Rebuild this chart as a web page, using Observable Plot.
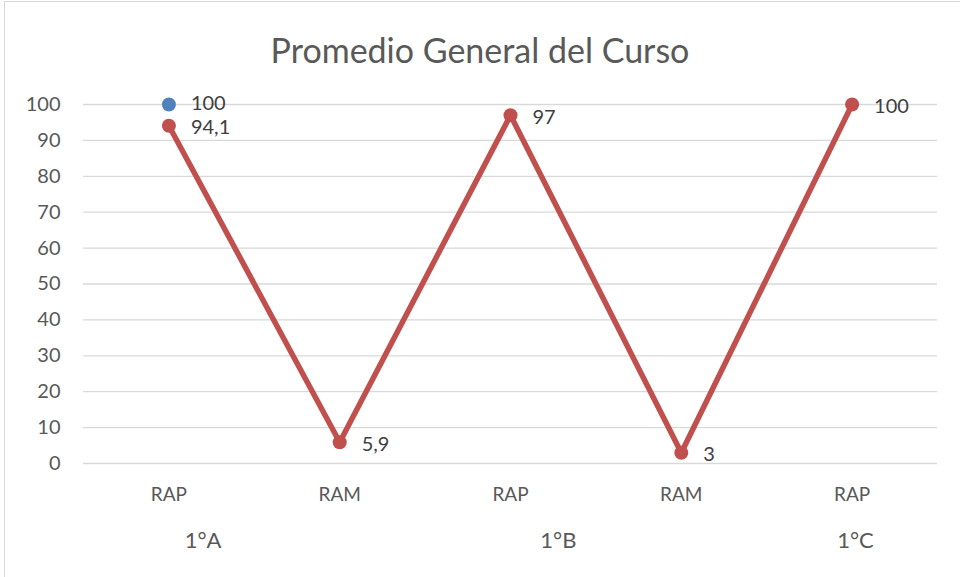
<!DOCTYPE html>
<html><head><meta charset="utf-8">
<script src="https://cdn.jsdelivr.net/npm/d3@7"></script>
<script src="https://cdn.jsdelivr.net/npm/@observablehq/plot@0.6"></script>
<style>
html,body{margin:0;padding:0;background:#fff;}
#wrap{position:relative;width:960px;height:577px;overflow:hidden;font-family:Lato,"Open Sans",sans-serif;}
#frame{position:absolute;left:4px;top:1px;width:980px;height:600px;border:1px solid #d9d9d9;box-sizing:border-box;}
#title{position:absolute;left:0;top:0;width:960px;height:80px;line-height:100px;text-align:center;font-size:34px;color:#595959;}
#chart{position:absolute;left:0;top:80px;}
</style></head><body>
<div id="wrap"><div id="frame"></div><div id="title">Promedio General del Curso</div><div id="chart"></div></div>
<script>
const categories = ["RAP","RAM","RAP","RAM","RAP"];
const redValues = [94.1, 5.9, 97, 3, 100];
const redLabels = ["94,1","5,9","97","3","100"];
const blueValues = [100];
const blueLabels = ["100"];
const groups = ["1°A","1°B","1°C"];
const groupPos = [0.2, 2.28, 4.02];
const yTicks = [0,10,20,30,40,50,60,70,80,90,100];

const red = redValues.map((v,i)=>({i, v, label: redLabels[i]}));
const blue = blueValues.map((v,i)=>({i, v, label: blueLabels[i]}));
const grp = groups.map((g,k)=>({g, x: groupPos[k]}));
const cats = categories.map((c,i)=>({c,i}));

const plot = Plot.plot({
  width: 960, height: 497,
  marginLeft: 83, marginRight: 23, marginTop: 24, marginBottom: 114,
  style: {fontFamily: "Lato, 'Open Sans', sans-serif", fontSize: "18px", color: "#595959", background: "transparent", overflow: "visible"},
  x: {domain: [-0.5, 4.5], axis: null},
  y: {domain: [0, 100], ticks: yTicks, axis: null},
  marks: [
    Plot.gridY(yTicks, {stroke: "#d9d9d9", strokeOpacity: 1, strokeWidth: 1.3}),
    Plot.text(yTicks, {x: -0.5, y: d=>d, text: d=>String(d), textAnchor: "end", dx: -23, fill: "#595959", fontSize: 20}),
    Plot.text(cats, {x: "i", y: 0, text: "c", dy: 31, fill: "#595959", fontSize: 19}),
    Plot.text(grp, {x: "x", y: 0, text: "g", dy: 77, fill: "#595959", fontSize: 22}),
    Plot.line(red, {x: "i", y: "v", stroke: "#c0504d", strokeWidth: 5.5}),
    Plot.dot(red, {x: "i", y: "v", r: 7, fill: "#c0504d", stroke: "none"}),
    Plot.dot(blue, {x: "i", y: "v", r: 7, fill: "#4f81bd", stroke: "none"}),
    Plot.text(red, {x: "i", y: "v", text: "label", textAnchor: "start", dx: 22, dy: 2, fill: "#404040", fontSize: 20}),
    Plot.text(blue, {x: "i", y: "v", text: "label", textAnchor: "start", dx: 22, dy: -1, fill: "#404040", fontSize: 20})
  ]
});
document.getElementById("chart").appendChild(plot);
</script>
</body></html>
